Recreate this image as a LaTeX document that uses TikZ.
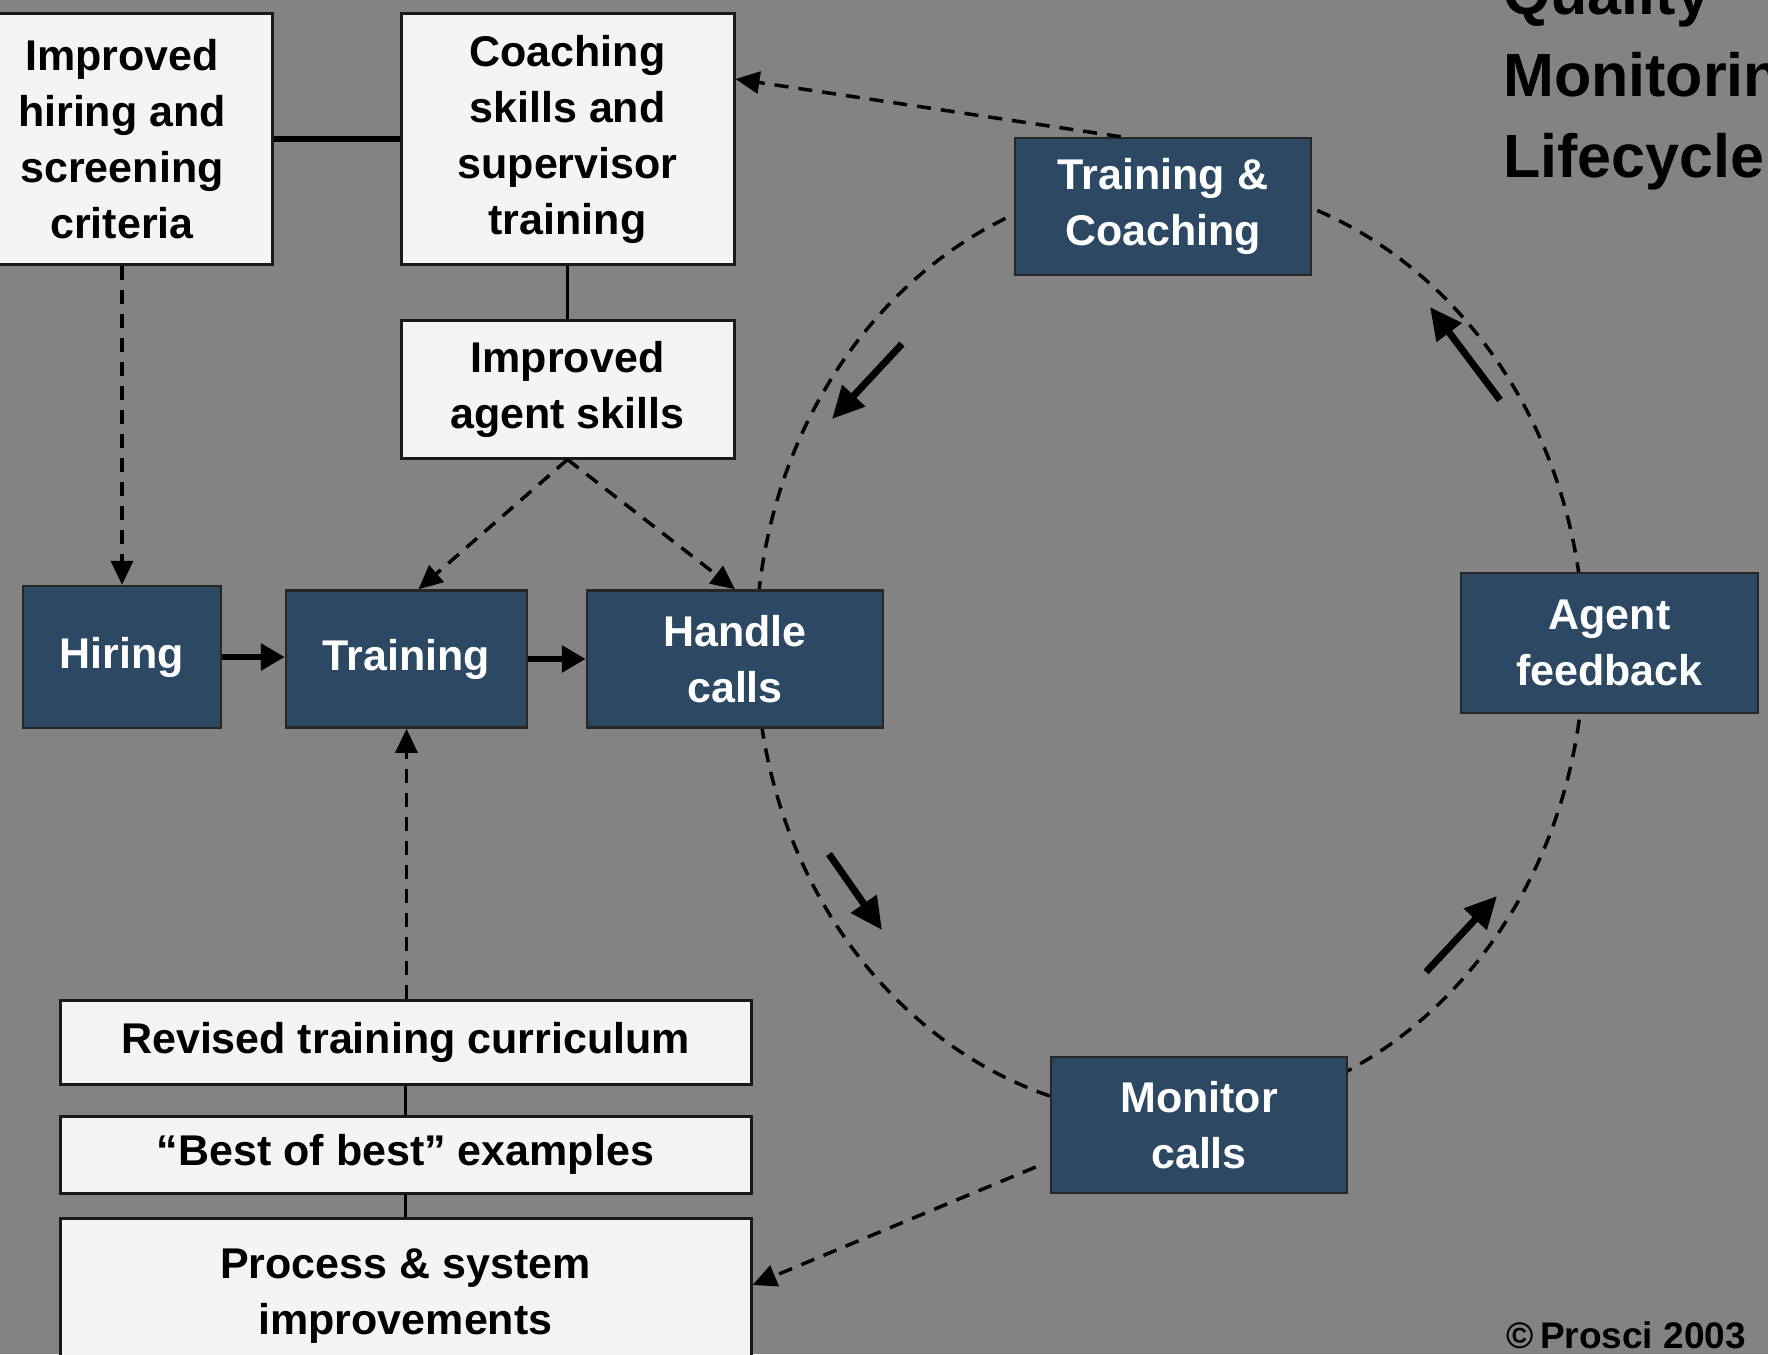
\documentclass[tikz,border=0pt]{standalone}
\usepackage{fontspec}
\setmainfont{Liberation Sans}
\usetikzlibrary{arrows.meta}
\definecolor{bg}{RGB}{131,131,131}
\definecolor{navy}{RGB}{44,72,98}
\definecolor{paper}{RGB}{243,244,245}
\begin{document}
\begin{tikzpicture}[x=1pt,y=-1pt,
  lightbox/.style={draw=black!90, line width=3pt, fill=paper, inner sep=0pt, align=center,
    font=\fontsize{43}{56}\selectfont\bfseries},
  darkbox/.style={draw=black!85, line width=2.5pt, fill=navy, text=white, inner sep=0pt, align=center,
    font=\fontsize{43}{56}\selectfont\bfseries},
  dashline/.style={line width=3.5pt, dash pattern=on 14pt off 10pt},
  dasharrow/.style={dashline, -{Triangle[length=24pt,width=22pt]}},
  flowarrow/.style={line width=6pt, -{Triangle[length=24pt,width=26pt]}},
  cyclearrow/.style={line width=7pt, -{Triangle[length=32pt,width=30pt]}},
  solidlink/.style={line width=5.5pt},
  thinlink/.style={line width=2.5pt},
  titletext/.style={anchor=base west, inner sep=0pt, font=\fontsize{61}{81}\selectfont\bfseries},
]
\useasboundingbox (0,0) rectangle (1768,1354);
\clip (0,0) rectangle (1768,1354);
\fill[bg] (0,0) rectangle (1768,1354);

% cycle (dashed ellipse, drawn under the boxes)
\draw[dashline] (1170,648) ellipse [x radius=414pt, y radius=468pt];

% title
\node[titletext] (q1) at (1503,15) {Quality};
\node[titletext] (q2) at (1503,96) {Monitoring};
\node[titletext] (q3) at (1503,177) {Lifecycle};

% light boxes
\node[lightbox, minimum width=300pt, minimum height=250pt] (hirecrit) at (122,139)
  {Improved\\hiring and\\screening\\criteria};
\node[lightbox, minimum width=333pt, minimum height=250pt] (coachsk) at (567.5,139)
  {Coaching\\skills and\\supervisor\\training};
\node[lightbox, minimum width=333pt, minimum height=138pt] (agentsk) at (567.5,389)
  {Improved\\agent skills};
\node[lightbox, minimum width=691pt, minimum height=84pt] (revised) at (405.5,1042)
  {Revised training curriculum};
\node[lightbox, minimum width=691pt, minimum height=77pt] (best) at (405.5,1154.5)
  {“Best of best” examples};
\node[lightbox, minimum width=691pt, minimum height=156pt] (process) at (405.5,1296)
  {Process \& system\\improvements};

% dark boxes
\node[darkbox, minimum width=198pt, minimum height=142pt] (hiring) at (122,657) {Hiring};
\node[darkbox, minimum width=241pt, minimum height=137pt] (training) at (406.5,659) {Training};
\node[darkbox, minimum width=296pt, minimum height=137pt] (handle) at (735,659) {Handle\\calls};
\node[darkbox, minimum width=296pt, minimum height=137pt] (tc) at (1163,206.5) {Training \&\\Coaching};
\node[darkbox, minimum width=297pt, minimum height=140pt] (feedback) at (1609.5,643) {Agent\\feedback};
\node[darkbox, minimum width=296pt, minimum height=136pt] (monitor) at (1199,1125) {Monitor\\calls};

% copyright
\node[anchor=base east, inner sep=0pt, font=\fontsize{37}{42}\selectfont\bfseries] (copy) at (1746,1348)
  {©\,Prosci 2003};

% solid links
\draw[solidlink] (hirecrit.east) -- (coachsk.west);
\draw[thinlink] (coachsk.south) -- (agentsk.north);
\draw[thinlink] (revised.south) -- (best.north);
\draw[thinlink] (best.south) -- (process.north);

% flow arrows
\draw[flowarrow] (hiring.east) -- (training.west |- hiring.east);
\draw[flowarrow] (training.east) -- (handle.west |- training.east);

% dashed arrows
\draw[dasharrow] (hiring.north |- hirecrit.south) -- (hiring.north);
\draw[dasharrow] (agentsk.south) -- ([xshift=12pt]training.north);
\draw[dasharrow] (agentsk.south) -- (handle.north);
\draw[dasharrow] (training.south |- revised.north) -- (training.south);
\draw[dasharrow] ([xshift=107pt]tc.north west) -- ([yshift=60pt]coachsk.east);
\draw[dasharrow] ([xshift=-14pt,yshift=-42pt]monitor.west) -- ([yshift=11pt]process.east);

% cycle direction arrows
\coordinate (a1s) at (902,344);  \coordinate (a1e) at (832,419);
\coordinate (a2s) at (829,854);  \coordinate (a2e) at (882,930);
\coordinate (a3s) at (1426,972); \coordinate (a3e) at (1497,896);
\coordinate (a4s) at (1500,400); \coordinate (a4e) at (1430,307);
\draw[cyclearrow] (a1s) -- (a1e);
\draw[cyclearrow] (a2s) -- (a2e);
\draw[cyclearrow] (a3s) -- (a3e);
\draw[cyclearrow] (a4s) -- (a4e);
\end{tikzpicture}
\end{document}
